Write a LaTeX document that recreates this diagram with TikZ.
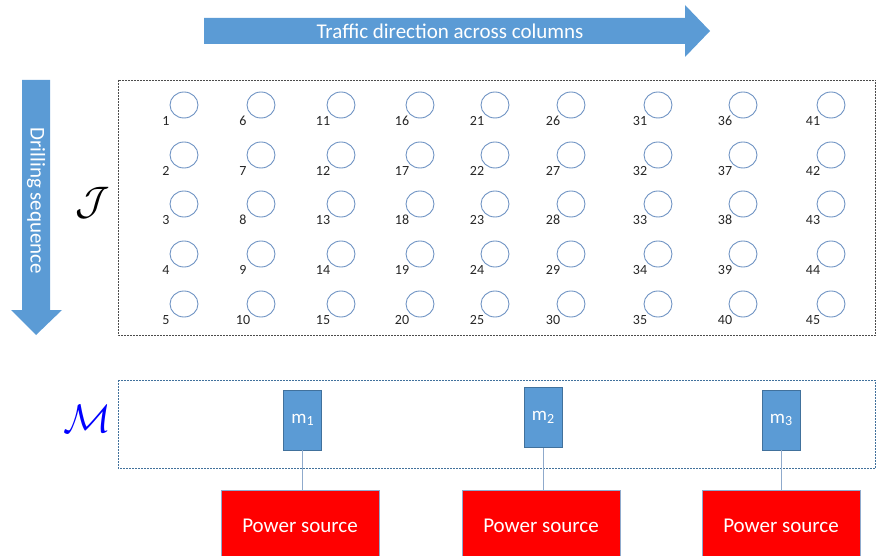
\documentclass[tikz,border=0pt]{standalone}
\usepackage{fontspec}
\setmainfont{Carlito}
\definecolor{aBlue}{HTML}{5B9BD5}
\definecolor{aEdge}{HTML}{41719C}
\definecolor{cEdge}{HTML}{6F93C3}
\definecolor{pEdge}{HTML}{8FAACC}
\tikzset{
  hole/.style={draw=cEdge, line width=0.9pt, ellipse, minimum width=28pt, minimum height=26pt, inner sep=0pt},
  holelabel/.style={font=\fontsize{14}{14}\selectfont, text=black!85, inner sep=0pt},
  mbox/.style={draw=aEdge, fill=aBlue, line width=0.6pt, minimum width=38pt, minimum height=60pt, inner sep=0pt, text=white, font=\fontsize{19}{19}\selectfont},
  psource/.style={draw=pEdge, fill=red, line width=0.6pt, minimum width=158pt, minimum height=80pt, inner sep=0pt},
  pstext/.style={text=white, font=\fontsize{21}{21}\selectfont, inner sep=0pt},
  link/.style={draw=pEdge, line width=1pt},
  arrowtext/.style={text=white, font=\fontsize{21}{21}\selectfont, inner sep=0pt},
  setsym/.style={inner sep=0pt},
}
\newcommand{\msub}[1]{\raisebox{-0.25ex}{\fontsize{14}{14}\selectfont #1}}
\usetikzlibrary{shapes.geometric}
\begin{document}
\begin{tikzpicture}[x=1pt,y=-1pt]
\useasboundingbox (0,0) rectangle (876,556);
\begin{scope}
\clip (0,0) rectangle (876,556);
% top arrow
\fill[aBlue] (204,18) -- (685,18) -- (685,5) -- (710,31) -- (685,57) -- (685,44) -- (204,44) -- cycle;
\node[arrowtext] (traffic) at (450,31) {Traffic direction across columns};
% left arrow
\fill[aBlue] (22,80) -- (50,80) -- (50,310) -- (62,310) -- (36,335) -- (11,310) -- (22,310) -- cycle;
\node[arrowtext, rotate=-90] (drill) at (36,201) {Drilling sequence};
% J box
\draw[black!70, line width=0.6pt, dash pattern=on 2pt off 1pt] (118,80) rectangle (875.5,335);
\node[setsym] (J) at (93,203) {\scalebox{1.6}{\fontsize{24}{24}\selectfont$\mathcal{J}$}};
% holes
\foreach \cx [count=\c from 0] in {184,261,341,420,495,571,658,743,831}{
  \foreach \cy [count=\r from 1] in {105,155,204,254,304}{
    \pgfmathtruncatemacro{\num}{\c*5+\r}
    \node[hole] (h\num) at (\cx,\cy) {};
    \node[holelabel, anchor=center] (l\num) at ([xshift=-18pt,yshift=-16pt]h\num.center) {\num};
  }
}
% M box
\draw[aEdge, line width=0.6pt, dash pattern=on 2pt off 1pt] (118,380) rectangle (875.5,468);
\node[setsym, text=blue] (M) at (87,419) {\scalebox{1.6}{\fontsize{24}{24}\selectfont$\mathcal{M}$}};
% machines
\node[mbox] (m1) at (302.5,420) {m\msub{1}};
\node[mbox] (m2) at (543,417.5) {m\msub{2}};
\node[mbox] (m3) at (781,420) {m\msub{3}};
% power sources
\node[psource, anchor=north] (p1) at (300,490) {};
\node[psource, anchor=north] (p2) at (541,490) {};
\node[psource, anchor=north] (p3) at (781,490) {};
\node[pstext] (t1) at (300,526) {Power source};
\node[pstext] (t2) at (541,526) {Power source};
\node[pstext] (t3) at (781,526) {Power source};
\draw[link] (m1.south) -- (m1.south |- p1.north);
\draw[link] (m2.south) -- (m2.south |- p2.north);
\draw[link] (m3.south) -- (m3.south |- p3.north);
\end{scope}
\end{tikzpicture}
\end{document}
